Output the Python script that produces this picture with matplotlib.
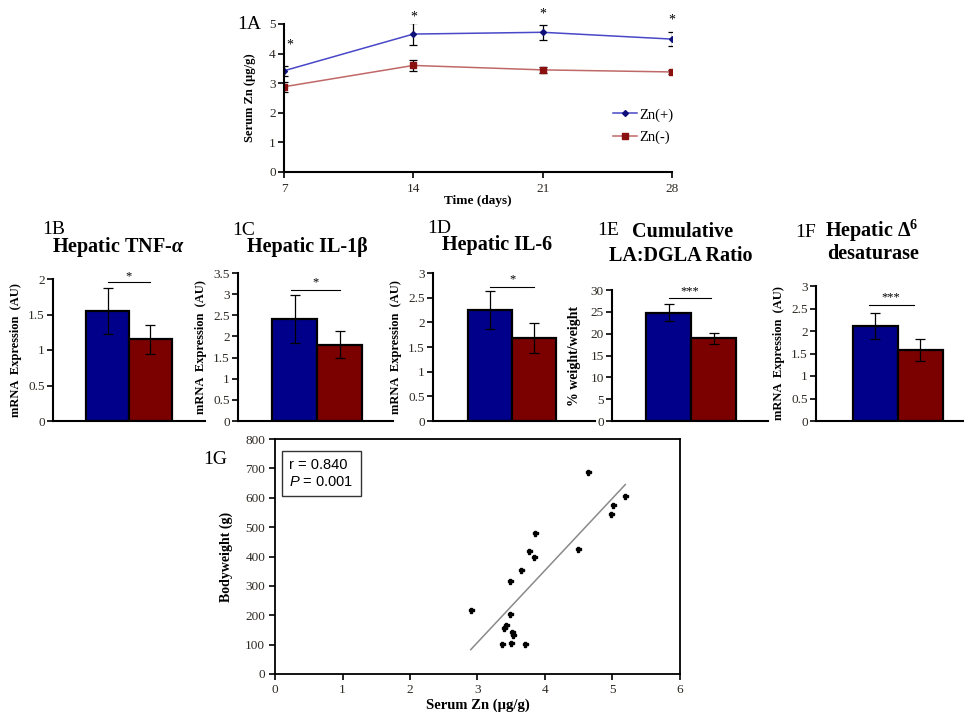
import numpy as np
import matplotlib
matplotlib.use("Agg")
import matplotlib.pyplot as plt

plt.rcParams["font.family"] = ["Liberation Serif", "DejaVu Serif"]
plt.rcParams["mathtext.fontset"] = "custom"
plt.rcParams["mathtext.it"] = "Liberation Serif:italic:bold"
plt.rcParams["mathtext.sf"] = "Liberation Sans:italic"
plt.rcParams["mathtext.rm"] = "Liberation Serif"
plt.rcParams["mathtext.bf"] = "Liberation Serif:bold"

# --- 1A: serum Zn over time -------------------------------------------
days = [7, 14, 21, 28]
zn_pos_mean = [3.42, 4.66, 4.72, 4.49]
zn_pos_err = [0.17, 0.36, 0.25, 0.23]
zn_neg_mean = [2.88, 3.60, 3.45, 3.38]
zn_neg_err = [0.17, 0.20, 0.09, 0.07]
star_day = [7.3, 14, 21, 28]
star_y = [4.30, 5.22, 5.34, 5.12]

# --- 1B-1F: bar panels (Zn(+), Zn(-)) -----------------------------------
groups = ["Zn(+)", "Zn(-)"]
tnf_mean, tnf_err = [1.55, 1.15], [0.32, 0.20]
il1b_mean, il1b_err = [2.42, 1.80], [0.57, 0.32]
il6_mean, il6_err = [2.25, 1.68], [0.39, 0.31]
ladgla_mean, ladgla_err = [24.8, 18.9], [2.0, 1.2]
d6d_mean, d6d_err = [2.11, 1.58], [0.29, 0.24]

# --- 1G: bodyweight vs serum Zn -----------------------------------------
serum_zn = [4.64, 5.19, 5.01, 4.98, 4.49, 3.85, 3.76, 3.83, 3.64, 3.48,
            2.90, 3.48, 3.42, 3.40, 3.51, 3.53, 3.36, 3.49, 3.70]
bodyweight = [686, 607, 575, 545, 426, 480, 419, 397, 355, 318,
              218, 205, 168, 157, 143, 134, 101, 104, 101]
fit_x = [2.90, 5.19]
fit_y = [83, 645]

BLUE = "#00008b"
RED = "#7b0000"
TXT = "#2e2a24"
W, H = 964, 717


def px_axes(fig, left, top, right, bottom):
    """Axes placed in figure pixel coords (origin top-left)."""
    return fig.add_axes([left / W, 1 - bottom / H,
                         (right - left) / W, (bottom - top) / H])


def fig_text(fig, x, y, s, **kw):
    # y is the text baseline, in pixels from the top
    fig.text(x / W, 1 - y / H, s, va="baseline", **kw)


def style_axes(ax, lw=1.5, size=9.5):
    for side in ("top", "right"):
        ax.spines[side].set_visible(False)
    for side in ("left", "bottom"):
        ax.spines[side].set_linewidth(lw)
    ax.tick_params(axis="both", colors="black", labelcolor=TXT,
                   labelsize=size, length=4, width=1.2, pad=2)


def bar_panel(fig, box, xlim, mean, err, ymax, ystep, ylabel,
              sig_x, sig_y, star_y_, stars, ysize=9):
    ax = px_axes(fig, *box)
    ax.bar([0, 1], mean, width=1.0, color=[BLUE, RED], edgecolor="black",
           linewidth=1.6, yerr=err, capsize=3.5,
           error_kw=dict(elinewidth=0.9, capthick=0.9, ecolor="black"))
    ax.set_xlim(*xlim)
    ax.set_ylim(0, ymax)
    ticks = np.arange(0, ymax + 1e-9, ystep)
    ax.set_yticks(ticks)
    ax.set_yticklabels([f"{t:g}" for t in ticks])
    ax.set_xticks([])
    style_axes(ax)
    ax.plot(sig_x, [sig_y, sig_y], color="black", lw=0.8)
    ax.text(np.mean(sig_x), star_y_, stars, ha="center", va="center",
            fontsize=9, clip_on=False)
    ax.set_ylabel(ylabel, fontsize=ysize, fontweight="bold")
    ax.yaxis.set_label_coords(-31 / (box[2] - box[0]), 0.5)
    return ax


def main():
    fig = plt.figure(figsize=(W / 100, H / 100), dpi=100)

    # --- 1A --------------------------------------------------------------
    ax = px_axes(fig, 284, 24, 672, 172)
    ax.errorbar(days, zn_pos_mean, yerr=zn_pos_err, fmt="none",
                ecolor="black", elinewidth=0.9, capsize=3, capthick=0.9)
    ax.errorbar(days, zn_neg_mean, yerr=zn_neg_err, fmt="none",
                ecolor="black", elinewidth=0.9, capsize=3, capthick=0.9)
    ax.plot(days, zn_pos_mean, color="#4848c8", lw=1.1, marker="D", ms=3,
            mfc="#10107a", mec="#10107a", label="Zn(+)")
    ax.plot(days, zn_neg_mean, color="#c06868", lw=1.1, marker="s", ms=4,
            mfc="#8b1010", mec="#8b1010", label="Zn(-)")
    for d, sy in zip(star_day, star_y):
        ax.text(d, sy, "*", ha="center", va="center", fontsize=10,
                clip_on=False)
    ax.set_xlim(7, 28)
    ax.set_ylim(0, 5)
    ax.set_xticks(days)
    ax.set_yticks(range(0, 6))
    style_axes(ax, size=9.5)
    ax.tick_params(axis="x", pad=4)
    ax.set_ylabel("Serum Zn (µg/g)", fontsize=9, fontweight="bold")
    ax.yaxis.set_label_coords(-28 / 388, 0.5)
    ax.set_xlabel("Time (days)", fontsize=9.5, fontweight="bold",
                  labelpad=0)
    ax.legend(loc="center left", bbox_to_anchor=(0.83, 0.31),
              frameon=False, fontsize=10.5, handlelength=1.6,
              handletextpad=0.2, labelspacing=0.6, borderpad=0)
    fig_text(fig, 237, 29, "1A", fontsize=14)

    # --- 1B-1F -----------------------------------------------------------
    bar_panel(fig, (53, 279, 205, 421), (-1.27, 2.27), tnf_mean, tnf_err,
              2, 0.5, "mRNA  Expression  (AU)", (0, 1), 1.96, 2.04, "*")
    bar_panel(fig, (238, 273, 393, 421), (-1.26, 2.19), il1b_mean, il1b_err,
              3.5, 0.5, "mRNA  Expression  (AU)", (-0.08, 1), 3.09, 3.28,
              "*")
    bar_panel(fig, (433, 273, 595, 421), (-1.30, 2.39), il6_mean, il6_err,
              3, 0.5, "mRNA  Expression  (AU)", (0, 1), 2.72, 2.88, "*")
    bar_panel(fig, (612, 290, 768, 421), (-1.26, 2.21), ladgla_mean,
              ladgla_err, 30, 5, "% weight/weight", (0, 0.95), 28.1, 29.8,
              "***", ysize=10)
    bar_panel(fig, (816, 286, 964, 421), (-1.32, 1.97), d6d_mean, d6d_err,
              3, 0.5, "mRNA  Expression  (AU)", (-0.15, 0.85), 2.58, 2.74,
              "***")

    fig_text(fig, 42, 234, "1B", fontsize=14)
    fig_text(fig, 52, 252, "Hepatic TNF-$\\alpha$", fontsize=14.5,
             fontweight="bold")
    fig_text(fig, 232, 235, "1C", fontsize=14)
    fig_text(fig, 247, 252, "Hepatic IL-1β", fontsize=14.5,
             fontweight="bold")
    fig_text(fig, 427, 233, "1D", fontsize=14)
    fig_text(fig, 442, 250, "Hepatic IL-6", fontsize=14.5, fontweight="bold")
    fig_text(fig, 597, 235, "1E", fontsize=14)
    fig_text(fig, 683, 237, "Cumulative", fontsize=14.5, fontweight="bold",
             ha="center")
    fig_text(fig, 681, 261, "LA:DGLA Ratio", fontsize=14.5,
             fontweight="bold", ha="center")
    fig_text(fig, 795, 237, "1F", fontsize=14)
    fig_text(fig, 825, 237, "Hepatic Δ$^{\\mathbf{6}}$", fontsize=14.5,
             fontweight="bold")
    fig_text(fig, 873, 259, "desaturase", fontsize=14.5, fontweight="bold",
             ha="center")

    # --- 1G --------------------------------------------------------------
    ax = px_axes(fig, 275, 439, 680, 674)
    ax.plot(fit_x, fit_y, color="#8a8a8a", lw=1.1)
    ax.plot(serum_zn, bodyweight, linestyle="none", marker="P", ms=3.6,
            color="black", mec="black")
    ax.set_xlim(0, 6)
    ax.set_ylim(0, 800)
    ax.set_xticks(range(0, 7))
    ax.set_yticks(range(0, 801, 100))
    for side in ax.spines.values():
        side.set_linewidth(1.3)
    ax.tick_params(axis="both", colors="black", labelcolor=TXT,
                   labelsize=9.5, length=4, width=1.2, pad=3)
    ax.set_xlabel("Serum Zn (µg/g)", fontsize=10.5, fontweight="bold",
                  labelpad=2)
    ax.set_ylabel("Bodyweight (g)", fontsize=10, fontweight="bold")
    ax.yaxis.set_label_coords(-42 / 405, 0.5)
    ax.text(0.035, 0.92, "r = 0.840\n$\\mathsf{P}$ = 0.001",
            transform=ax.transAxes, ha="left", va="top", fontsize=10.5,
            family="Liberation Sans", linespacing=1.3,
            bbox=dict(boxstyle="square,pad=0.5", fc="white", ec="#333333",
                      lw=1))
    fig_text(fig, 227, 464, "1G", fontsize=14, ha="right")

    fig.savefig("out.png", dpi=100)


if __name__ == "__main__":
    main()
